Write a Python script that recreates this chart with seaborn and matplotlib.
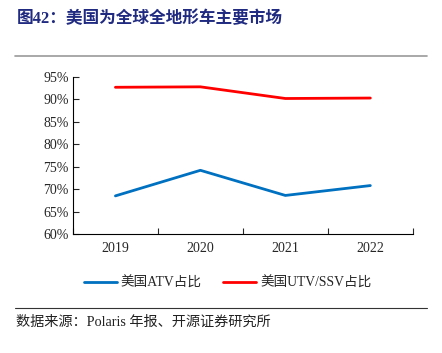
import matplotlib
matplotlib.use("Agg")
import pandas as pd
import seaborn as sns
import matplotlib.pyplot as plt
from matplotlib.lines import Line2D

# Data
years = ["2019", "2020", "2021", "2022"]
atv_share = [68.5, 74.2, 68.6, 70.8]
utv_share = [92.7, 92.8, 90.2, 90.3]
y_ticks = [60, 65, 70, 75, 80, 85, 90, 95]

sns.set_style("ticks")
plt.rcParams['font.family'] = ['Liberation Serif', 'Noto Sans CJK SC', 'DejaVu Sans']

df = pd.DataFrame({"year": years, "ATV": atv_share, "UTV": utv_share})
df["x"] = range(len(years))

fig = plt.figure(figsize=(4.42, 3.53), dpi=100)
ax = fig.add_axes([0.165, 0.337, 0.769, 0.445])

sns.lineplot(data=df, x="x", y="ATV", ax=ax, color="#0070C0", linewidth=2)
sns.lineplot(data=df, x="x", y="UTV", ax=ax, color="#FF0000", linewidth=2)

ax.set_xlim(-0.5, len(years) - 0.5)
ax.set_ylim(60, 95)
ax.set_yticks(y_ticks)
ax.set_yticklabels([f"{v}%" for v in y_ticks], fontsize=10)
ax.set_xticks([i - 0.5 for i in range(len(years) + 1)], minor=False)
ax.set_xticklabels([])
ax.set_xticks(range(len(years)), minor=True)
ax.set_xticklabels(years, minor=True, fontsize=10)
ax.tick_params(axis="x", which="major", direction="in", length=4, width=0.8)
ax.tick_params(axis="x", which="minor", length=0, pad=6)
ax.tick_params(axis="y", direction="in", length=4, width=0.8, pad=3)
ax.set_xlabel("")
ax.set_ylabel("")
sns.despine(ax=ax, top=True, right=True)
for s in ["left", "bottom"]:
    ax.spines[s].set_linewidth(0.8)
    ax.spines[s].set_color("#000000")

# legend
handles = [Line2D([], [], color="#0070C0", linewidth=2),
           Line2D([], [], color="#FF0000", linewidth=2)]
fig.legend(handles, ["美国ATV占比", "美国UTV/SSV占比"], loc="center",
           bbox_to_anchor=(0.515, 0.198), ncol=2, frameon=False, fontsize=9.8,
           handlelength=2.4, columnspacing=1.6, handletextpad=0.3)

# title and rules
fig.text(0.038, 0.948, "图42：美国为全球全地形车主要市场", fontsize=12,
         fontweight="bold", color="#1F2A80", va="center", ha="left")
fig.add_artist(Line2D([0.034, 0.966], [0.842, 0.842], color="#999999", linewidth=1.2))
fig.add_artist(Line2D([0.034, 0.966], [0.127, 0.127], color="#333333", linewidth=0.8))
fig.text(0.036, 0.088, "数据来源：Polaris 年报、开源证券研究所", fontsize=10.2,
         color="#222222", va="center", ha="left")

fig.savefig("out.png", dpi=100)
